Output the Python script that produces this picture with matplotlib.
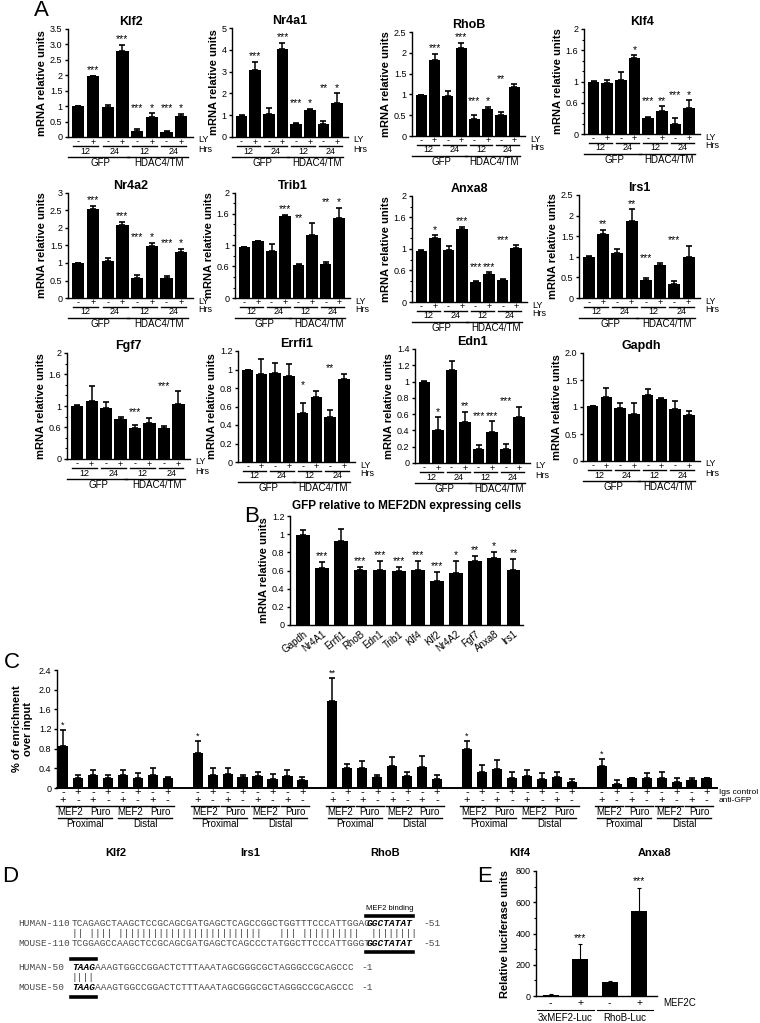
import matplotlib
matplotlib.use("Agg")
import matplotlib.pyplot as plt
import matplotlib.transforms as mtransforms
from matplotlib.lines import Line2D
import numpy as np

plt.rcParams.update({
    "font.family": ["Liberation Sans", "DejaVu Sans"],
    "font.size": 7,
    "axes.linewidth": 1.0,
    "xtick.major.width": 1.0,
    "ytick.major.width": 1.0,
    "xtick.major.size": 2.5,
    "ytick.major.size": 2.5,
    "ytick.major.pad": 1.5,
    "xtick.labelsize": 6.5,
    "ytick.labelsize": 6.5,
})

# ---------------- data ----------------
A_GENES = ["Klf2", "Nr4a1", "RhoB", "Klf4",
           "Nr4a2", "Trib1", "Anxa8", "Irs1",
           "Fgf7", "Errfi1", "Edn1", "Gapdh"]
A_MEAN = [
    [1.00, 1.97, 0.97, 2.80, 0.20, 0.65, 0.17, 0.68],
    [0.97, 3.07, 1.06, 4.05, 0.60, 1.23, 0.58, 1.58],
    [0.98, 1.82, 0.97, 2.12, 0.40, 0.64, 0.51, 1.18],
    [1.00, 0.98, 1.03, 1.44, 0.30, 0.43, 0.20, 0.50],
    [1.00, 2.53, 1.06, 2.08, 0.57, 1.49, 0.57, 1.31],
    [0.97, 1.08, 0.90, 1.57, 0.62, 1.20, 0.65, 1.52],
    [0.97, 1.20, 0.98, 1.37, 0.37, 0.53, 0.42, 1.02],
    [1.00, 1.55, 1.10, 1.87, 0.43, 0.80, 0.34, 1.00],
    [1.00, 1.09, 0.96, 0.75, 0.58, 0.68, 0.58, 1.03],
    [0.99, 0.95, 0.96, 0.93, 0.53, 0.70, 0.49, 0.90],
    [1.00, 0.40, 1.14, 0.50, 0.17, 0.38, 0.17, 0.56],
    [1.01, 1.18, 0.98, 0.87, 1.22, 1.15, 0.96, 0.86],
]
A_ERR = [
    [0.02, 0.02, 0.08, 0.18, 0.06, 0.12, 0.03, 0.08],
    [0.03, 0.38, 0.26, 0.28, 0.03, 0.05, 0.15, 0.43],
    [0.01, 0.15, 0.10, 0.12, 0.11, 0.06, 0.07, 0.06],
    [0.01, 0.04, 0.16, 0.06, 0.03, 0.10, 0.10, 0.14],
    [0.01, 0.10, 0.08, 0.10, 0.08, 0.08, 0.07, 0.10],
    [0.01, 0.01, 0.13, 0.02, 0.03, 0.22, 0.03, 0.20],
    [0.01, 0.06, 0.08, 0.05, 0.03, 0.03, 0.02, 0.05],
    [0.01, 0.10, 0.10, 0.28, 0.05, 0.04, 0.07, 0.27],
    [0.01, 0.28, 0.12, 0.05, 0.07, 0.10, 0.05, 0.25],
    [0.01, 0.16, 0.11, 0.13, 0.11, 0.07, 0.07, 0.05],
    [0.01, 0.16, 0.11, 0.13, 0.05, 0.13, 0.06, 0.13],
    [0.01, 0.17, 0.10, 0.20, 0.11, 0.02, 0.16, 0.07],
]
A_STARS = [
    ["", "***", "", "***", "***", "*", "***", "*"],
    ["", "***", "", "***", "***", "*", "**", "*"],
    ["", "***", "", "***", "***", "*", "**", ""],
    ["", "", "", "*", "***", "**", "***", "*"],
    ["", "***", "", "***", "***", "*", "***", "*"],
    ["", "", "", "***", "**", "", "**", "*"],
    ["", "*", "", "***", "***", "***", "***", ""],
    ["", "**", "", "**", "***", "", "***", ""],
    ["", "", "", "", "***", "", "***", ""],
    ["", "", "", "", "*", "", "**", ""],
    ["", "*", "", "**", "***", "***", "***", ""],
    ["", "", "", "", "", "", "", ""],
]
A_YTICKS = [
    ["0", "0.5", "1", "1.5", "2", "2.5", "3.0", "3.5"],
    ["0", "1", "2", "3", "4", "5"],
    ["0", "0.5", "1", "1.5", "2", "2.5"],
    ["0", "0.6", "1", "1.6", "2"],
    ["0", "0.5", "1", "1.5", "2", "2.5", "3"],
    ["0", "0.6", "1", "1.6", "2"],
    ["0", "0.6", "1", "1.6", "2"],
    ["0", "0.5", "1", "1.5", "2", "2.5"],
    ["0", "0.6", "1", "1.6", "2"],
    ["0", "0.2", "0.4", "0.6", "0.8", "1", "1.2"],
    ["0", "0.2", "0.4", "0.6", "0.8", "1", "1.2", "1.4"],
    ["0", "0.5", "1", "1.5", "2.0"],
]
LY_SIGNS = ["-", "+", "-", "+", "-", "+", "-", "+"]
HRS = ["12", "24", "12", "24"]
A_GROUPS = ["GFP", "HDAC4/TM"]

B_GENES = ["Gapdh", "Nr4A1", "Errfi1", "RhoB", "Edn1", "Trib1",
           "Klf4", "Klf2", "Nr4A2", "Fgf7", "Anxa8", "Irs1"]
B_MEAN = [0.99, 0.63, 0.92, 0.61, 0.61, 0.59, 0.61, 0.48, 0.57, 0.70, 0.74, 0.61]
B_ERR = [0.06, 0.06, 0.14, 0.03, 0.09, 0.05, 0.09, 0.10, 0.14, 0.06, 0.06, 0.12]
B_STARS = ["", "***", "", "***", "***", "***", "***", "***", "*", "**", "*", "**"]

C_GENES = ["Klf2", "Irs1", "RhoB", "Klf4", "Anxa8"]
C_MEAN = [
    [0.85, 0.20, 0.27, 0.21, 0.26, 0.21, 0.27, 0.21],
    [0.71, 0.26, 0.28, 0.22, 0.25, 0.19, 0.25, 0.17],
    [1.77, 0.40, 0.41, 0.23, 0.45, 0.25, 0.43, 0.19],
    [0.80, 0.33, 0.38, 0.21, 0.24, 0.19, 0.22, 0.12],
    [0.45, 0.09, 0.20, 0.20, 0.20, 0.13, 0.17, 0.20],
]
C_ERR = [
    [0.33, 0.07, 0.09, 0.06, 0.10, 0.10, 0.13, 0.02],
    [0.24, 0.14, 0.13, 0.05, 0.07, 0.10, 0.11, 0.06],
    [0.46, 0.09, 0.14, 0.04, 0.18, 0.08, 0.22, 0.07],
    [0.16, 0.14, 0.18, 0.12, 0.13, 0.12, 0.11, 0.06],
    [0.13, 0.08, 0.01, 0.10, 0.12, 0.07, 0.03, 0.01],
]
C_STARS = ["*", "*", "**", "*", "*"]
C_YTICKS = ["0", "0.4", "0.8", "1.2", "1.6", "2.0", "2.4"]
IGS_ROW = ["-", "+", "-", "+", "-", "+", "-", "+"]
GFP_ROW = ["+", "-", "+", "-", "+", "-", "+", "-"]
C_PAIRS = ["MEF2", "Puro", "MEF2", "Puro"]
C_REGIONS = ["Proximal", "Distal"]

HUMAN_110 = "TCAGAGCTAAGCTCCGCAGCGATGAGCTCAGCCGGCTGGTTTCCCATTGGAC"
MOUSE_110 = "TCGGAGCCAAGCTCCGCAGCGATGAGCTCAGCCCTATGGCTTCCCATTGGGT"
MEF2_SITE = "GGCTATAT"
SITE_TAIL = "TAAG"
HUMAN_50 = "AAAGTGGCCGGACTCTTTAAATAGCGGGCGCTAGGGCCGCAGCCC"
MOUSE_50 = "AAAGTGGCCGGACTCTTTAAATAGCGGGCGCTAGGGCCGCAGCCC"

E_LABELS = ["3xMEF2-Luc", "RhoB-Luc"]
E_MEF2C = ["-", "+", "-", "+"]
E_MEAN = [8, 240, 88, 545]
E_ERR = [2, 90, 5, 148]
E_STARS = ["", "***", "", "***"]

# ---------------- layout helpers ----------------
W, H = 760, 1023
fig = plt.figure(figsize=(W / 100, H / 100), dpi=100)
STAR_FS = 7.5


def fx(x):
    return x / W


def fy(y):
    return 1 - y / H


def px_ax(l, t, r, b):
    ax = fig.add_axes([l / W, 1 - b / H, (r - l) / W, (b - t) / H])
    ax.spines["top"].set_visible(False)
    ax.spines["right"].set_visible(False)
    ax.set_xticks([])
    return ax


def hline(ax, x0, x1, ypx, lw=1.0):
    tr = mtransforms.blended_transform_factory(ax.transData, fig.transFigure)
    fig.add_artist(Line2D([x0, x1], [fy(ypx), fy(ypx)], transform=tr,
                          color="black", lw=lw, clip_on=False))


def under(ax, x, ypx, s, size=6.5, **kw):
    tr = mtransforms.blended_transform_factory(ax.transData, fig.transFigure)
    fig.text(x, fy(ypx), s, transform=tr, ha="center", va="center",
             fontsize=size, **kw)


def panel_letter(x, y, s):
    fig.text(fx(x), fy(y), s, fontsize=16, ha="left", va="center")


# ---------------- panel A ----------------
A_AX_PX = [(68, 29, 193, 137), (232, 28, 348, 137), (412, 32, 525, 136), (584, 29, 700, 134),
           (68, 193, 193, 298), (235, 193, 350, 298), (412, 196, 527, 302), (579, 195, 700, 298),
           (67, 353, 190, 459), (238, 351, 355, 462), (415, 349, 530, 463), (583, 353, 700, 461)]

panel_letter(34, 11, "A")
for k, gene in enumerate(A_GENES):
    l, t, r, b = A_AX_PX[k]
    ax = px_ax(l, t, r, b)
    mean = np.array(A_MEAN[k])
    err = np.array(A_ERR[k])
    x = np.arange(8)
    ax.bar(x, mean, width=0.84, color="black")
    ax.errorbar(x, mean, yerr=[np.zeros(8), err], fmt="none", ecolor="black",
                elinewidth=1.1, capsize=2.2, capthick=1.2)
    labels = A_YTICKS[k]
    ticks = [float(v) for v in labels]
    ymax = ticks[-1]
    ax.set_ylim(0, ymax)
    ax.set_xlim(-0.7, 7.8)
    ax.set_yticks(ticks)
    ax.set_yticklabels(labels)
    if "0.6" in labels and "1.6" in labels:
        ax.set_yticks(np.arange(0, ymax + 0.01, 0.2), minor=True)
        ax.tick_params(axis="y", which="minor", length=1.5, width=0.8)
    ax.set_title(gene, fontsize=9, fontweight="bold", pad=3)
    ax.set_ylabel("mRNA relative units", fontsize=8, fontweight="bold", labelpad=2)
    tops = mean + err
    for i, s in enumerate(A_STARS[k]):
        if not s:
            continue
        y = tops[i:i + 2].max() if i % 2 == 0 else tops[i]
        ax.text(i, y + ymax * 0.005, s, ha="center", va="bottom", fontsize=STAR_FS)
    for i, s in enumerate(LY_SIGNS):
        under(ax, i, b + 5, s)
    for p in range(4):
        hline(ax, 2 * p - 0.35, 2 * p + 1.35, b + 9)
        under(ax, 2 * p + 0.5, b + 14, HRS[p])
    for g in range(2):
        hline(ax, 4 * g - 0.7, 4 * g + 3.45, b + 20)
        under(ax, 4 * g + 1.5, b + 26, A_GROUPS[g], size=7)
    fig.text(fx(r + 5), fy(b + 3), "LY", fontsize=6.5, ha="left", va="center")
    fig.text(fx(r + 5), fy(b + 12), "Hrs", fontsize=6.5, ha="left", va="center")

# ---------------- panel B ----------------
panel_letter(244, 517, "B")
axb = px_ax(290, 516, 523, 625)
xb = np.arange(len(B_GENES))
axb.bar(xb, B_MEAN, width=0.72, color="black")
axb.errorbar(xb, B_MEAN, yerr=[np.zeros(len(xb)), B_ERR], fmt="none", ecolor="black",
             elinewidth=1.1, capsize=2.2, capthick=1.2)
axb.set_xlim(-0.68, 11.5)
axb.set_ylim(0, 1.2)
axb.set_yticks([0, 0.2, 0.4, 0.6, 0.8, 1.0, 1.2])
axb.set_yticklabels(["0", "0.2", "0.4", "0.6", "0.8", "1", "1.2"])
axb.set_xticks(xb)
axb.set_xticklabels(B_GENES, rotation=38, ha="right", rotation_mode="anchor", fontsize=7)
axb.tick_params(axis="x", length=0, pad=3)
axb.set_ylabel("mRNA relative units", fontsize=8, fontweight="bold", labelpad=2)
axb.set_title("GFP relative to MEF2DN expressing cells", fontsize=8.5,
              fontweight="bold", pad=5)
for i, s in enumerate(B_STARS):
    if s:
        axb.text(i, B_MEAN[i] + B_ERR[i] + 0.01, s, ha="center", va="bottom", fontsize=STAR_FS)

# ---------------- panel C ----------------
panel_letter(4, 663, "C")
axc = px_ax(57, 670, 717, 788)
axc.spines["bottom"].set_linewidth(1.4)
for g in range(len(C_GENES)):
    xc = g * 9 + np.arange(8)
    axc.bar(xc, C_MEAN[g], width=0.68, color="black")
    axc.errorbar(xc, C_MEAN[g], yerr=[np.zeros(8), C_ERR[g]], fmt="none", ecolor="black",
                 elinewidth=1.1, capsize=2.0, capthick=1.2)
    axc.text(xc[0], C_MEAN[g][0] + C_ERR[g][0] + 0.01, C_STARS[g], ha="center",
             va="bottom", fontsize=STAR_FS - 1)
    for i in range(8):
        under(axc, xc[i], 792, IGS_ROW[i], size=8)
        under(axc, xc[i], 800, GFP_ROW[i], size=8)
    for p in range(4):
        hline(axc, xc[2 * p] - 0.45, xc[2 * p + 1] + 0.45, 806)
        under(axc, xc[2 * p] + 0.5, 812, C_PAIRS[p], size=7)
    for q in range(2):
        hline(axc, xc[4 * q] - 0.3, xc[4 * q + 3] + 0.3, 818)
        under(axc, xc[4 * q] + 1.5, 824, C_REGIONS[q], size=7)
    under(axc, xc[0] + 3.5, 853, C_GENES[g], size=8, fontweight="bold")
axc.set_xlim(-0.4, 43.7)
axc.set_ylim(0, 2.4)
axc.set_yticks([float(v) for v in C_YTICKS])
axc.set_yticklabels(C_YTICKS)
axc.set_ylabel("% of enrichment\nover input", fontsize=8, fontweight="bold", labelpad=4)
fig.text(fx(719), fy(793), "Igs control", fontsize=6, ha="left", va="center")
fig.text(fx(719), fy(801), "anti-GFP", fontsize=6, ha="left", va="center")

# ---------------- panel D ----------------
panel_letter(2, 876, "D")
MONO = ["Liberation Mono", "DejaVu Sans Mono"]
FS = 6.8
CW = FS * 100 / 72 * 0.6
X0 = 72
GREY = "#4a4a4a"


def seq_row(y, label, segments, tail):
    fig.text(fx(18), fy(y), label, family=MONO, fontsize=FS, color=GREY, va="center")
    pos = 0
    for text, bold in segments:
        fig.text(fx(X0 + pos * CW), fy(y), text, family=MONO, fontsize=FS,
                 color="black" if bold else GREY, va="center",
                 fontweight="bold" if bold else "normal",
                 fontstyle="italic" if bold else "normal")
        pos += len(text)
    fig.text(fx(X0 + (pos + 2) * CW), fy(y), tail, family=MONO, fontsize=FS,
             color=GREY, va="center")


def bar_line(x0, n, y, lw=2.6):
    fig.add_artist(Line2D([fx(x0 - 1), fx(x0 + n * CW + 1)], [fy(y), fy(y)],
                          color="black", lw=lw))


seq_row(923, "HUMAN-110", [(HUMAN_110, False), (MEF2_SITE, True)], "-51")
match = "".join("|" if a == b else " " for a, b in zip(HUMAN_110 + MEF2_SITE, MOUSE_110 + MEF2_SITE))
fig.text(fx(X0), fy(933), match, family=MONO, fontsize=FS, color="#333333", va="center")
seq_row(943, "MOUSE-110", [(MOUSE_110, False), (MEF2_SITE, True)], "-51")
site_x = X0 + len(HUMAN_110) * CW
bar_line(site_x, len(MEF2_SITE), 916)
bar_line(site_x, len(MEF2_SITE), 952)
fig.text(fx(site_x + len(MEF2_SITE) * CW / 2), fy(908), "MEF2 binding", fontsize=5.5,
         ha="center", va="center")

seq_row(968, "HUMAN-50", [(SITE_TAIL, True), (HUMAN_50, False)], "-1")
fig.text(fx(X0), fy(978), "|" * len(SITE_TAIL), family=MONO, fontsize=FS, color="#333333",
         va="center")
seq_row(988, "MOUSE-50", [(SITE_TAIL, True), (MOUSE_50, False)], "-1")
bar_line(X0, len(SITE_TAIL), 959)
bar_line(X0, len(SITE_TAIL), 997)

# ---------------- panel E ----------------
panel_letter(477, 876, "E")
axe = px_ax(536, 871, 657, 996)
xe = np.arange(4)
axe.bar(xe, E_MEAN, width=0.55, color="black")
axe.errorbar(xe, E_MEAN, yerr=E_ERR, fmt="none", ecolor="black",
             elinewidth=0.8, capsize=1.5, capthick=0.8)
for i, s in enumerate(E_STARS):
    if s:
        axe.text(i, E_MEAN[i] + E_ERR[i] + 8, s, ha="center", va="bottom", fontsize=STAR_FS)
axe.set_xlim(-0.5, 3.6)
axe.set_ylim(0, 800)
axe.set_yticks([0, 200, 400, 600, 800])
axe.set_yticks(np.arange(0, 801, 100), minor=True)
axe.tick_params(axis="y", which="minor", length=1.5, width=0.8)
axe.set_ylabel("Relative luciferase units", fontsize=8, fontweight="bold", labelpad=4)
for i, s in enumerate(E_MEF2C):
    under(axe, i, 1003, s, size=7.5)
for p in range(2):
    hline(axe, 2 * p - 0.45, 2 * p + 1.45, 1010, lw=0.8)
    under(axe, 2 * p + 0.5, 1018, E_LABELS[p], size=7)
fig.text(fx(663), fy(1003), "MEF2C", fontsize=7, ha="left", va="center")

fig.savefig("out.png", dpi=100)
